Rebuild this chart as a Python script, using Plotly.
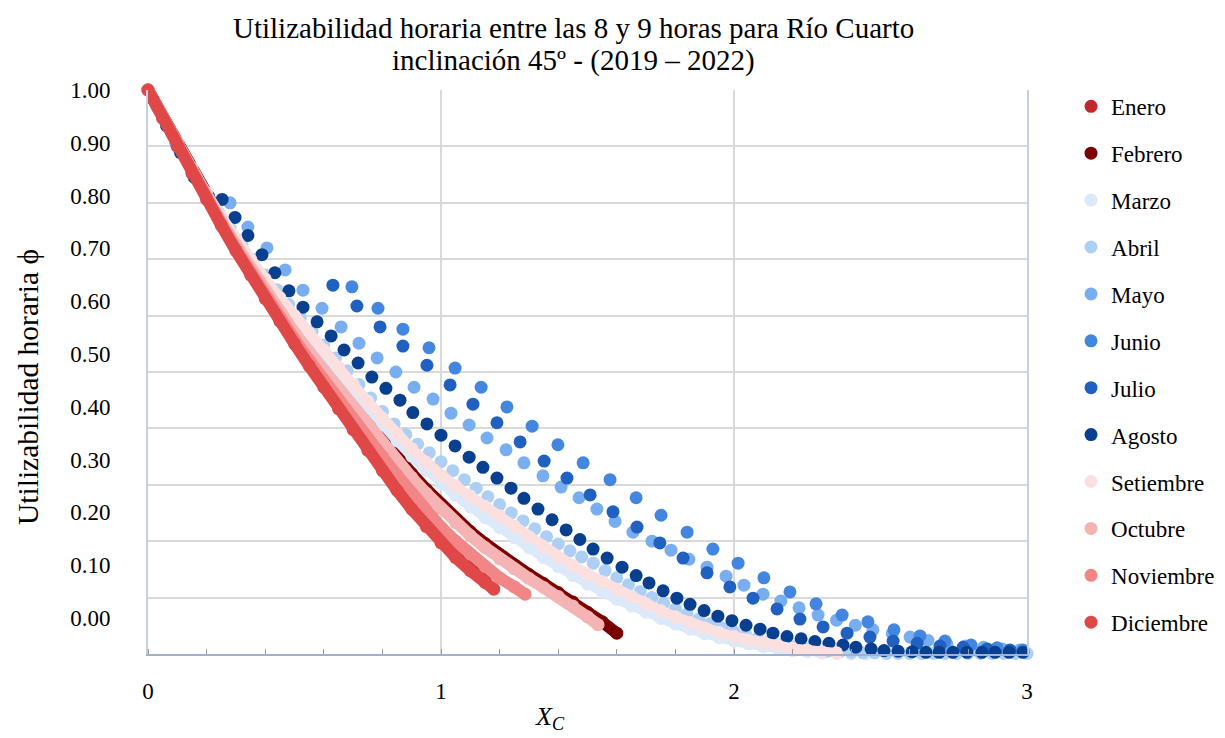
import plotly.graph_objects as go

# ---------------- data ----------------
x_enero = [0.0, 0.1, 0.2, 0.3, 0.4, 0.5, 0.6, 0.7, 0.8, 0.9, 1.0, 1.1, 1.15]
y_enero = [1.000, 0.902, 0.810, 0.720, 0.636, 0.556, 0.479, 0.404, 0.333, 0.265, 0.205, 0.155, 0.133]

x_febrero = [0.00, 0.05, 0.10, 0.15, 0.20, 0.25, 0.30, 0.35, 0.40, 0.45, 0.50, 0.55, 0.60, 0.65, 0.70, 0.75,
             0.80, 0.85, 0.90, 0.95, 1.00, 1.05, 1.10, 1.15, 1.20, 1.25, 1.30, 1.35, 1.40, 1.45, 1.50, 1.55, 1.60]
y_febrero = [1.000, 0.953, 0.906, 0.859, 0.814, 0.771, 0.730, 0.690, 0.651, 0.614, 0.578, 0.543, 0.510, 0.477,
             0.445, 0.413, 0.381, 0.350, 0.320, 0.292, 0.265, 0.240, 0.217, 0.196, 0.176, 0.158, 0.141, 0.125,
             0.109, 0.092, 0.074, 0.057, 0.037]

x_marzo = [0.00, 0.05, 0.10, 0.15, 0.20, 0.25, 0.30, 0.35, 0.40, 0.45, 0.50, 0.55, 0.60, 0.65, 0.70, 0.75,
           0.80, 0.85, 0.90, 0.95, 1.00, 1.05, 1.10, 1.15, 1.20, 1.25, 1.30, 1.35, 1.40, 1.45, 1.50, 1.55,
           1.60, 1.65, 1.70, 1.75, 1.80, 1.85, 1.90, 1.95, 2.00, 2.05, 2.10, 2.15, 2.20, 2.25, 2.30, 2.35,
           2.40, 2.45]
y_marzo = [1.000, 0.948, 0.898, 0.851, 0.806, 0.764, 0.725, 0.688, 0.653, 0.620,
           0.588, 0.557, 0.527, 0.497, 0.466, 0.436, 0.406, 0.378, 0.351, 0.326,
           0.302, 0.281, 0.261, 0.242, 0.224, 0.206, 0.189, 0.171, 0.155, 0.139,
           0.124, 0.110, 0.097, 0.085, 0.074, 0.063, 0.053, 0.044, 0.036, 0.029,
           0.023, 0.018, 0.013, 0.009, 0.006, 0.004, 0.002, 0.001, 0.000, 0.000]

x_abril = [0.00, 0.04, 0.08, 0.12, 0.16, 0.20, 0.24, 0.28, 0.32, 0.36, 0.40, 0.44, 0.48, 0.52, 0.56, 0.60,
           0.64, 0.68, 0.72, 0.76, 0.80, 0.84, 0.88, 0.92, 0.96, 1.00, 1.04, 1.08, 1.12, 1.16, 1.20, 1.24,
           1.28, 1.32, 1.36, 1.40, 1.44, 1.48, 1.52, 1.56, 1.60, 1.64, 1.68, 1.72, 1.76, 1.80, 1.84, 1.88,
           1.92, 1.96, 2.00, 2.04, 2.08, 2.12, 2.16, 2.20, 2.24, 2.28, 2.32, 2.36, 2.40, 2.44, 2.48, 2.52,
           2.56, 2.60, 2.64, 2.68, 2.72, 2.76, 2.80, 2.84, 2.88, 2.92, 2.96, 3.00]
y_abril = [1.000, 0.962, 0.924, 0.886, 0.850, 0.815, 0.783, 0.755, 0.727, 0.700, 0.672, 0.646, 0.620, 0.596,
           0.572, 0.548, 0.525, 0.502, 0.478, 0.454, 0.430, 0.408, 0.389, 0.372, 0.357, 0.341, 0.325, 0.309,
           0.294, 0.279, 0.265, 0.250, 0.236, 0.222, 0.208, 0.195, 0.183, 0.172, 0.161, 0.148, 0.135, 0.123,
           0.111, 0.100, 0.090, 0.080, 0.071, 0.062, 0.054, 0.046, 0.040, 0.034, 0.028, 0.022, 0.017, 0.013,
           0.010, 0.007, 0.005, 0.004, 0.003, 0.002, 0.002, 0.001, 0.001, 0.001, 0.001, 0.001, 0.001, 0.001,
           0.001, 0.001, 0.001, 0.001, 0.001, 0.001]

x_mayo = [0.030, 0.095, 0.157, 0.219, 0.280, 0.341, 0.406, 0.468, 0.529, 0.594, 0.659, 0.720, 0.782, 0.846,
          0.908, 0.973, 1.034, 1.096, 1.157, 1.222, 1.283, 1.348, 1.410, 1.471, 1.532, 1.594, 1.655, 1.720,
          1.785, 1.846, 1.908, 1.973, 2.034, 2.099, 2.160, 2.222, 2.287, 2.350, 2.414, 2.474, 2.540, 2.601,
          2.662, 2.727, 2.790, 2.852, 2.915, 2.976]
y_mayo = [0.970, 0.905, 0.848, 0.798, 0.800, 0.757, 0.720, 0.681, 0.645, 0.613, 0.580, 0.551, 0.525, 0.500,
          0.473, 0.452, 0.427, 0.406, 0.383, 0.362, 0.339, 0.316, 0.296, 0.277, 0.257, 0.235, 0.216, 0.200,
          0.184, 0.168, 0.154, 0.138, 0.122, 0.106, 0.094, 0.082, 0.069, 0.060, 0.051, 0.043, 0.036, 0.030,
          0.024, 0.017, 0.014, 0.012, 0.009, 0.007]

x_junio = [0.696, 0.785, 0.870, 0.959, 1.048, 1.137, 1.225, 1.311, 1.399, 1.485, 1.577, 1.666, 1.751, 1.840,
           1.928, 2.014, 2.102, 2.191, 2.280, 2.369, 2.457, 2.546, 2.635, 2.720, 2.809, 2.898, 2.986]
y_junio = [0.651, 0.613, 0.576, 0.543, 0.507, 0.473, 0.438, 0.404, 0.371, 0.339, 0.309, 0.277, 0.246, 0.216,
           0.186, 0.161, 0.135, 0.110, 0.089, 0.069, 0.057, 0.043, 0.032, 0.023, 0.016, 0.011, 0.007]

x_julio = [0.631, 0.713, 0.792, 0.870, 0.952, 1.031, 1.109, 1.191, 1.270, 1.352, 1.430, 1.509, 1.587, 1.669,
           1.747, 1.826, 1.908, 1.986, 2.065, 2.147, 2.225, 2.304, 2.386, 2.464, 2.543, 2.625, 2.703, 2.782,
           2.864, 2.942]
y_julio = [0.654, 0.617, 0.580, 0.546, 0.512, 0.477, 0.443, 0.410, 0.376, 0.342, 0.312, 0.282, 0.252, 0.225,
           0.197, 0.170, 0.144, 0.119, 0.099, 0.080, 0.062, 0.048, 0.037, 0.030, 0.023, 0.019, 0.014, 0.012,
           0.009, 0.007]

x_agosto = [0.016, 0.063, 0.111, 0.158, 0.206, 0.253, 0.297, 0.341, 0.389, 0.433, 0.481, 0.529, 0.577, 0.625,
            0.669, 0.717, 0.764, 0.812, 0.860, 0.904, 0.952, 1.000, 1.048, 1.096, 1.143, 1.191, 1.239, 1.283,
            1.331, 1.379, 1.427, 1.474, 1.519, 1.567, 1.618, 1.666, 1.710, 1.758, 1.805, 1.850, 1.898, 1.945,
            1.993, 2.041, 2.089, 2.133, 2.181, 2.229, 2.276, 2.324, 2.372, 2.416, 2.468, 2.512, 2.560, 2.608,
            2.655, 2.700, 2.747, 2.795, 2.846, 2.891, 2.939, 2.986]
y_agosto = [0.984, 0.937, 0.889, 0.845, 0.812, 0.806, 0.774, 0.742, 0.708, 0.676, 0.644, 0.615, 0.589, 0.564,
            0.539, 0.516, 0.491, 0.471, 0.450, 0.428, 0.408, 0.388, 0.369, 0.349, 0.331, 0.312, 0.294, 0.276,
            0.257, 0.238, 0.220, 0.203, 0.186, 0.170, 0.154, 0.139, 0.126, 0.112, 0.099, 0.088, 0.077, 0.067,
            0.059, 0.051, 0.044, 0.037, 0.031, 0.027, 0.022, 0.019, 0.016, 0.012, 0.009, 0.006, 0.005, 0.004,
            0.003, 0.003, 0.003, 0.003, 0.003, 0.003, 0.003, 0.003]

x_setiembre = [0.00, 0.05, 0.10, 0.15, 0.20, 0.25, 0.30, 0.35, 0.40, 0.45, 0.50, 0.55, 0.60, 0.65, 0.70, 0.75,
               0.80, 0.85, 0.90, 0.95, 1.00, 1.05, 1.10, 1.15, 1.20, 1.25, 1.30, 1.35, 1.40, 1.45, 1.50, 1.55,
               1.60, 1.65, 1.70, 1.75, 1.80, 1.85, 1.90, 1.95, 2.00, 2.05, 2.10, 2.15, 2.20, 2.25, 2.30, 2.35]
y_setiembre = [1.000, 0.953, 0.907, 0.862, 0.818, 0.776, 0.737, 0.700, 0.665, 0.632,
               0.600, 0.569, 0.539, 0.509, 0.478, 0.448, 0.418, 0.390, 0.364, 0.340,
               0.317, 0.298, 0.280, 0.262, 0.245, 0.227, 0.208, 0.190, 0.172, 0.157,
               0.142, 0.128, 0.115, 0.102, 0.089, 0.077, 0.066, 0.056, 0.046, 0.038,
               0.031, 0.025, 0.020, 0.015, 0.010, 0.007, 0.004, 0.002]

x_octubre = [0.00, 0.05, 0.10, 0.15, 0.20, 0.25, 0.30, 0.35, 0.40, 0.45, 0.50, 0.55, 0.60, 0.65, 0.70, 0.75,
             0.80, 0.85, 0.90, 0.95, 1.00, 1.05, 1.10, 1.15, 1.20, 1.25, 1.30, 1.35, 1.40, 1.45, 1.50, 1.536]
y_octubre = [1.000, 0.952, 0.905, 0.857, 0.810, 0.767, 0.725, 0.684, 0.645, 0.607, 0.570, 0.536, 0.503, 0.470,
             0.438, 0.406, 0.374, 0.343, 0.313, 0.285, 0.258, 0.233, 0.210, 0.189, 0.169, 0.151, 0.134, 0.118,
             0.102, 0.085, 0.066, 0.052]

x_noviembre = [0.00, 0.05, 0.10, 0.15, 0.20, 0.25, 0.30, 0.35, 0.40, 0.45, 0.50, 0.55, 0.60, 0.65, 0.70, 0.75,
               0.80, 0.85, 0.90, 0.95, 1.00, 1.05, 1.10, 1.15, 1.20, 1.25, 1.287]
y_noviembre = [1.000, 0.951, 0.902, 0.855, 0.808, 0.763, 0.719, 0.677, 0.636, 0.597, 0.558, 0.521, 0.485, 0.450,
               0.415, 0.382, 0.350, 0.317, 0.285, 0.254, 0.225, 0.200, 0.177, 0.155, 0.135, 0.119, 0.106]

x_diciembre = [0.00, 0.05, 0.10, 0.15, 0.20, 0.25, 0.30, 0.35, 0.40, 0.45, 0.50, 0.55, 0.60, 0.65, 0.70, 0.75,
               0.80, 0.85, 0.90, 0.95, 1.00, 1.05, 1.10, 1.15, 1.18]
y_diciembre = [1.000, 0.950, 0.900, 0.852, 0.806, 0.760, 0.715, 0.672, 0.630, 0.590, 0.550, 0.511, 0.473, 0.435,
               0.398, 0.361, 0.325, 0.290, 0.257, 0.226, 0.197, 0.171, 0.148, 0.127, 0.115]

month_names = ["Enero", "Febrero", "Marzo", "Abril", "Mayo", "Junio", "Julio", "Agosto",
               "Setiembre", "Octubre", "Noviembre", "Diciembre"]
month_x = [x_enero, x_febrero, x_marzo, x_abril, x_mayo, x_junio, x_julio, x_agosto,
           x_setiembre, x_octubre, x_noviembre, x_diciembre]
month_y = [y_enero, y_febrero, y_marzo, y_abril, y_mayo, y_junio, y_julio, y_agosto,
           y_setiembre, y_octubre, y_noviembre, y_diciembre]
month_colors = ["#c0282d", "#7b0000", "#dce9f8", "#aecff5", "#78aef0", "#4386e0", "#1f60c0", "#083f8f",
                "#fce0e0", "#f6b3b3", "#f28585", "#e04848"]
band_width = [12, 12, 10, 0, 0, 0, 0, 0, 10, 12, 12, 12]   # continuous band under the dots (0 = dots only)

y_tick_vals = [0.0, 0.1, 0.2, 0.3, 0.4, 0.5, 0.6, 0.7, 0.8, 0.9, 1.0]
y_tick_text = ["0.00", "0.10", "0.20", "0.30", "0.40", "0.50", "0.60", "0.70", "0.80", "0.90", "1.00"]
x_tick_vals = [0, 1, 2, 3]
x_tick_text = ["0", "1", "2", "3"]

title_line1 = "Utilizabilidad horaria entre las 8 y 9 horas para Río Cuarto"
title_line2 = "inclinación 45º - (2019 – 2022)"

SERIF = "Liberation Serif, Times New Roman, serif"

fig = go.Figure()
# carrier for the (offset) tick-label axis of the original picture
fig.add_trace(go.Scatter(x=[None], y=[None], yaxis="y2", mode="markers",
                         showlegend=False, hoverinfo="skip"))
for name, xs, ys, col, bw in zip(month_names, month_x, month_y, month_colors, band_width):
    if bw:
        fig.add_trace(go.Scatter(x=xs, y=ys, mode="lines", line=dict(color=col, width=bw),
                                 legendgroup=name, showlegend=False, hoverinfo="skip",
                                 cliponaxis=False))
    fig.add_trace(go.Scatter(x=xs, y=ys, mode="markers", name=name, legendgroup=name,
                             marker=dict(color=col, size=13, line=dict(width=0)),
                             cliponaxis=False))

fig.update_layout(
    width=1225, height=738,
    margin=dict(l=148, r=198, t=90, b=84),
    paper_bgcolor="white", plot_bgcolor="white",
    font=dict(family=SERIF, color="black"),
    xaxis=dict(range=[0, 3], tickvals=x_tick_vals, ticktext=x_tick_text,
               showgrid=True, gridcolor="#d9d9d9", gridwidth=1.5, zeroline=False,
               showline=True, linecolor="#9fb1cf", linewidth=1.5, mirror=False,
               ticks="outside", ticklen=16, tickcolor="rgba(0,0,0,0)",
               tickfont=dict(family=SERIF, size=23, color="black"),
               minor=dict(dtick=0.2, ticks="inside", ticklen=5, tickcolor="#9a9a9a", showgrid=False)),
    yaxis=dict(range=[0, 1], dtick=0.1, tick0=0, showticklabels=False, ticks="",
               showgrid=True, gridcolor="#d9d9d9", gridwidth=1.5, zeroline=False,
               showline=True, linecolor="#c5d0e0", linewidth=1.5, mirror=True),
    yaxis2=dict(overlaying="y", side="left", range=[-0.0682, 1.0],
                tickvals=y_tick_vals, ticktext=y_tick_text,
                showgrid=False, zeroline=False, showline=False,
                ticks="outside", ticklen=32, tickcolor="rgba(0,0,0,0)",
                tickfont=dict(family=SERIF, size=23, color="black")),
    legend=dict(x=0.8743, xref="container", xanchor="left",
                y=0.885, yref="container", yanchor="top",
                font=dict(family=SERIF, size=23, color="black"),
                tracegroupgap=14, bgcolor="rgba(0,0,0,0)", itemwidth=30, maxheight=1),
    showlegend=True,
)

fig.add_annotation(text=title_line1, showarrow=False, xref="paper", yref="paper",
                   x=0.4846, y=1.110, xanchor="center", yanchor="middle",
                   font=dict(family=SERIF, size=29, color="black"))
fig.add_annotation(text=title_line2, showarrow=False, xref="paper", yref="paper",
                   x=0.4846, y=1.053, xanchor="center", yanchor="middle",
                   font=dict(family=SERIF, size=29, color="black"))
fig.add_annotation(text="Utilizabilidad horaria ϕ", textangle=-90, showarrow=False,
                   xref="paper", yref="paper", x=-0.1368, y=0.473,
                   xanchor="center", yanchor="middle",
                   font=dict(family=SERIF, size=29.5, color="black"))
fig.add_annotation(text="<i>X</i><sub><i>C</i></sub>", showarrow=False,
                   xref="x", yref="paper", x=1.372, y=-0.1135,
                   xanchor="center", yanchor="middle",
                   font=dict(family=SERIF, size=26, color="black"))

fig.write_html("out.html")
